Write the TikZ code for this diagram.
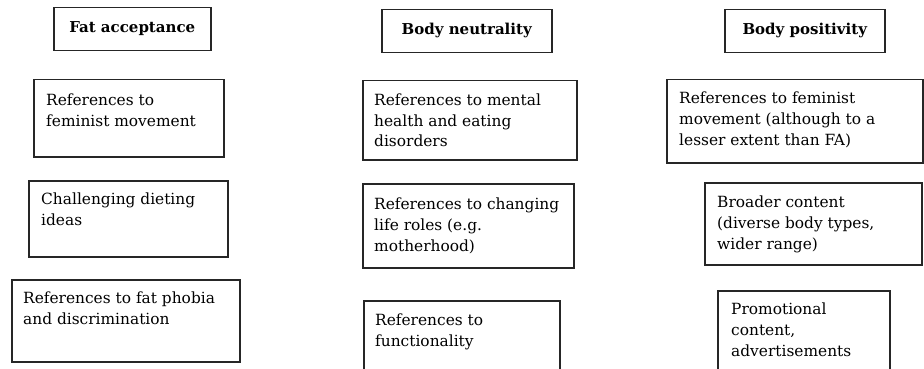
\documentclass[tikz,border=0pt]{standalone}
\usepackage{fontspec}
\setmainfont{DejaVu Serif}
\usetikzlibrary{positioning}
% left-aligned lines whose reference point is the baseline of the first line
\newcommand\stacked[1]{\vtop{\halign{##\hfil\cr#1\crcr}}}
\begin{document}
\begin{tikzpicture}[x=1pt,y=-1pt,
  frame/.style={draw=black!85,line width=1.5pt,rectangle,inner sep=0pt,anchor=north west},
  heading/.style={frame,font=\fontsize{15}{18}\selectfont\bfseries,text height=11pt,text depth=4pt},
  entry/.style={anchor=base west,inner sep=0pt,font=\fontsize{15.4}{21}\selectfont}]
\useasboundingbox (0,0) rectangle (924,369);
\clip (0,0) rectangle (924,369);

% column headings
\node[heading,minimum width=157pt,minimum height=43pt] (hfa) at (53,7) {Fat acceptance};
\node[heading,minimum width=170pt,minimum height=43pt] (hbn) at (381,9) {Body neutrality};
\node[heading,minimum width=160pt,minimum height=43pt] (hbp) at (724,9) {Body positivity};

% fat acceptance
\node[frame,minimum width=190pt,minimum height=77pt] (fa1) at (33,79) {};
\node[entry] (tfa1) at ([shift={(13,26)}]fa1.north west) {\stacked{References to\cr feminist movement}};
\node[frame,minimum width=199pt,minimum height=76pt] (fa2) at (28,180) {};
\node[entry] (tfa2) at ([shift={(13,24)}]fa2.north west) {\stacked{Challenging dieting\cr ideas}};
\node[frame,minimum width=228pt,minimum height=82pt] (fa3) at (11,279) {};
\node[entry] (tfa3) at ([shift={(12,24)}]fa3.north west) {\stacked{References to fat phobia\cr and discrimination}};

% body neutrality
\node[frame,minimum width=214pt,minimum height=79pt] (bn1) at (362,80) {};
\node[entry] (tbn1) at ([shift={(12,25)}]bn1.north west) {\stacked{References to mental\cr health and eating\cr disorders}};
\node[frame,minimum width=211pt,minimum height=84pt] (bn2) at (362,183) {};
\node[entry] (tbn2) at ([shift={(12,26)}]bn2.north west) {\stacked{References to changing\cr life roles (e.g.\cr motherhood)}};
\node[frame,minimum width=196pt,minimum height=90pt] (bn3) at (363,300) {};
\node[entry] (tbn3) at ([shift={(12,25)}]bn3.north west) {\stacked{References to\cr functionality}};

% body positivity
\node[frame,minimum width=256pt,minimum height=83pt] (bp1) at (666,79) {};
\node[entry] (tbp1) at ([shift={(13,24)}]bp1.north west) {\stacked{References to feminist\cr movement (although to a\cr lesser extent than FA)}};
\node[frame,minimum width=217pt,minimum height=82pt] (bp2) at (704,182) {};
\node[entry] (tbp2) at ([shift={(13,25)}]bp2.north west) {\stacked{Broader content\cr (diverse body types,\cr wider range)}};
\node[frame,minimum width=172pt,minimum height=100pt] (bp3) at (717,290) {};
\node[entry] (tbp3) at ([shift={(14,24)}]bp3.north west) {\stacked{Promotional\cr content,\cr advertisements}};
\end{tikzpicture}
\end{document}
